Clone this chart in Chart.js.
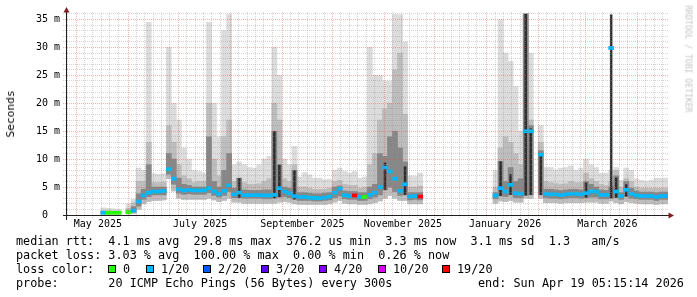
<!DOCTYPE html>
<html><head><meta charset="utf-8">
<script src="https://cdn.jsdelivr.net/npm/chart.js@4.4.1/dist/chart.umd.min.js"></script>
<style>
html,body{margin:0;padding:0;background:#fff;}
#wrap{position:relative;width:697px;height:297px;overflow:hidden;background:#fff;}
canvas{position:absolute;left:0;top:0;}
.t{position:absolute;font-family:'DejaVu Sans Mono',monospace;font-size:11.8px;line-height:14px;white-space:pre;color:#000;}
.box{position:absolute;top:265px;width:8px;height:8px;box-sizing:border-box;border:1px solid #000;}
#ylab{position:absolute;left:11px;top:114px;font-family:'DejaVu Sans Mono',monospace;font-size:11.2px;line-height:12px;white-space:pre;transform:translate(-50%,-50%) rotate(-90deg);}
#wm{position:absolute;left:688px;top:59px;font-family:'DejaVu Sans Mono',monospace;font-size:8.1px;line-height:9px;white-space:pre;color:#c4c4c4;transform:translate(-50%,-50%) rotate(90deg);}
</style></head>
<body><div id="wrap">
<canvas id="c" width="697" height="297"></canvas>
<div id="ylab">Seconds</div>
<div id="wm">RRDTOOL / TOBI OETIKER</div>
<div class="t" style="left:16px;top:233.5px">median rtt:  4.1 ms avg  29.8 ms max  376.2 us min  3.3 ms now  3.1 ms sd  1.3   am/s</div>
<div class="t" style="left:16px;top:247.5px">packet loss: 3.03 % avg  100.00 % max  0.00 % min  0.26 % now</div>
<div class="t" style="left:16px;top:261.5px">loss color:</div>
<div id="lossLegend"></div>
<div class="t" style="left:16px;top:275.5px">probe:       20 ICMP Echo Pings (56 Bytes) every 300s</div>
<div class="t" style="left:478px;top:275.5px">end: Sun Apr 19 05:15:14 2026</div>
</div>
<script>
// ---------- data (3-day bins, first bin centre = day -4.7 from 2025-05-01) ----------
const binFirstDay = -4.7;
const binStepDays = 3;
const med = [null,null,null,null,null,null,null,
0.4,0.4,0.4,0.4,
null,
0.5,0.8,2.4,3.5,4.0,4.2,4.2,4.3,8.2,6.5,
4.6,4.4,4.5,4.4,4.4,4.4,4.8,4.2,3.8,4.3,
5.3,3.7,4.0,3.55,3.55,3.55,3.55,3.5,3.5,3.6,
4.8,4.2,3.9,3.4,3.2,3.2,3.1,3.05,3.0,3.1,
3.3,4.0,4.7,3.55,3.4,3.5,3.2,3.2,3.6,4.0,
5.0,8.5,7.8,6.5,4.3,5.5,3.3,3.4,3.3,
null,null,null,null,null,null,null,null,null,null,null,null,null,null,
3.5,4.8,4.2,5.4,3.9,3.8,15,15,null,10.8,
3.8,3.7,3.7,3.55,3.7,3.8,3.8,3.7,3.9,4.2,
4.2,3.6,3.6,29.9,4.2,3.4,4.5,3.8,3.5,3.4,
3.4,3.4,3.2,3.4,3.4];
const lossCount = [null,null,null,null,null,null,null,
1,0,0,0,
null,
0,1,1,1,1,1,1,1,1,1,
1,1,1,1,1,1,1,1,1,1,
1,1,1,1,1,1,1,1,1,1,
1,1,1,1,1,1,1,1,1,1,
1,1,1,1,1,19,1,0,1,1,
1,1,1,1,1,1,1,1,19,
null,null,null,null,null,null,null,null,null,null,null,null,null,null,
1,1,1,1,1,1,1,1,null,1,
1,1,1,1,1,1,1,1,1,1,
1,1,1,1,1,1,1,1,1,1,
1,1,1,1,1];
const smokeMin = [null,null,null,null,null,null,null,
0.15,0.15,0.15,0.15,
null,
0.2,0.3,1.0,2.0,2.4,2.6,2.6,2.7,6.5,4.3,
3.0,2.8,2.8,2.8,2.8,2.8,3.0,2.7,2.4,2.6,
3.0,2.3,2.3,2.1,2.1,2.1,2.1,2.1,2.1,2.1,
2.3,2.4,2.3,2.0,1.9,1.9,1.9,1.9,1.9,1.9,
2.0,2.3,2.6,2.1,2.0,2.0,1.9,1.9,2.0,2.2,
2.5,3.0,3.5,3.0,2.6,2.6,2.0,2.0,2.0,
null,null,null,null,null,null,null,null,null,null,null,null,null,null,
2.1,2.5,2.4,2.6,2.3,2.3,3.0,3.0,null,3.0,
2.2,2.2,2.2,2.1,2.2,2.2,2.2,2.2,2.3,2.3,
2.3,2.1,2.1,2.5,2.2,2.0,2.4,2.2,2.1,2.0,
2.0,2.0,1.9,2.0,2.0];
const smokeDarkLow = [null,null,null,null,null,null,null,
0.3,0.3,0.3,0.3,
null,
0.35,0.5,1.6,2.8,3.3,3.6,3.6,3.6,7.3,5.5,
3.9,3.7,3.8,3.7,3.7,3.7,4.0,3.5,3.2,3.5,
4.2,3.1,3.1,3.0,3.0,3.0,3.0,2.9,2.9,3.0,
3.2,3.3,3.1,2.8,2.6,2.6,2.6,2.5,2.5,2.6,
2.7,3.1,3.4,2.9,2.8,2.8,2.6,2.6,2.9,3.2,
3.6,4.5,5.0,4.2,3.5,3.6,2.7,2.8,2.7,
null,null,null,null,null,null,null,null,null,null,null,null,null,null,
2.9,3.4,3.3,3.6,3.1,3.1,3.5,3.6,null,3.6,
3.1,3.0,3.0,2.9,3.0,3.1,3.1,3.0,3.1,3.2,
3.2,2.9,2.9,3.0,3.1,2.8,3.3,3.0,2.9,2.8,
2.8,2.8,2.6,2.8,2.8];
const smokeLightTop = [null,null,null,null,null,null,null,
1.3,1.2,1.1,1.0,
null,
2.0,2.8,8.4,8.0,34.5,7.4,7.3,7.4,30,20,
17,12,10,8,7.8,7.5,34.5,20,14,33,
35.9,9,9.5,9,8.5,8.4,9,10,10.5,30,
25,10,9,12.3,6.8,7.6,7.2,6.6,6.6,6.3,
6.4,8,8.4,7.8,7.5,7.8,6.6,6.8,30,25,
25,24,24,35.9,35.9,31,7,6.9,7.5,
null,null,null,null,null,null,null,null,null,null,null,null,null,null,
8,35,29,27.5,23,15,36,29,null,16,
8.5,8.5,8.1,8.4,8.5,8.8,8,8.4,10,9,
8.5,7.5,7.5,8,8.5,6.2,8.4,8,6.5,6.2,
6,6.2,6.6,6.6,6.6];
const smokeMidTop = [null,null,null,null,null,null,null,
0.8,0.8,0.7,0.7,
null,
1.2,2.2,6.0,6.0,13,5.8,5.8,5.9,16,13,
9,7,6.5,5.8,6,6,20,10,7,14,
17,6,6.6,5.8,5.5,5.5,5.6,6,6.5,20,
17,6.5,6,9,5,5,4.8,4.6,4.6,4.6,
4.8,6,6.2,5.5,5.3,5.3,4.8,5,9,11,
17,19,20,26,29,18,5,5,5.2,
null,null,null,null,null,null,null,null,null,null,null,null,null,null,
5,12,14,13,11,9,36,17,null,13,
6,5.8,5.6,5.5,5.6,6,5.8,5.8,7.5,6.5,
6,5.5,5.3,6,8,5,6.5,6,5,4.8,
4.8,4.8,4.8,4.8,4.8];
const smokeDarkTop = [null,null,null,null,null,null,null,
0.5,0.5,0.5,0.5,
null,
0.8,1.5,3.8,4.6,9,5.0,5.0,5.0,11,10,
6.6,5.5,5.3,5.0,5.0,5.0,14,6,5,8,
11,4.8,6.6,4.5,4.4,4.4,4.4,4.5,4.5,15,
9,5,4.8,8,4.0,4.0,3.9,3.8,3.8,3.9,
4.0,5,5.2,4.3,4.2,4.2,4.0,4.0,5,5.5,
11,10.5,14,15,12,9.5,4,4,4,
null,null,null,null,null,null,null,null,null,null,null,null,null,null,
4,9.6,6,8.5,6,6.5,36,16,null,11.5,
4.6,4.6,4.5,4.4,4.5,4.6,4.6,4.5,6,5.5,
5,4.5,4.4,5,7,4,6.0,4.8,4.3,4.1,
4.1,4.1,4.0,4.1,4.1];
const smokeCoreTop = [null,null,null,null,null,null,null,
null,null,null,null,
null,
null,null,null,null,null,null,null,null,null,null,
null,null,null,null,null,null,null,null,null,null,
null,null,6.6,null,null,null,null,null,null,15,
9,null,null,8,null,null,null,null,null,null,
null,null,null,null,null,null,null,null,null,null,
null,9.4,null,null,null,8.7,null,null,null,
null,null,null,null,null,null,null,null,null,null,null,null,null,null,
null,9.6,null,7.3,null,null,36,15.5,null,11,
null,null,null,null,null,null,null,null,5.8,null,
null,null,null,35.9,6.7,null,5.5,null,null,null,
null,null,null,null,null];

const lossLegend = [[0,'0'],[1,'1/20'],[2,'2/20'],[3,'3/20'],[4,'4/20'],[10,'10/20'],[19,'19/20']];
const lossColors = {0:'#26ff00',1:'#00b8ff',2:'#0059ff',3:'#5e00ff',4:'#7e00ff',10:'#dd00ff',19:'#ff0000'};
const monthStarts = ['2025-05-01','2025-06-01','2025-07-01','2025-08-01','2025-09-01','2025-10-01','2025-11-01','2025-12-01','2026-01-01','2026-02-01','2026-03-01','2026-04-01'];
const minorDaysOfMonth = [6,11,16,21,26];
const monthLabels = [['2025-05-14','May 2025'],['2025-07-14','July 2025'],['2025-09-13','September 2025'],['2025-11-12','November 2025'],['2026-01-12','January 2026'],['2026-03-14','March 2026']];
const yTickValues = [0,5,10,15,20,25,30,35];

// ---------- helpers ----------
const EPOCH = Date.UTC(2025,4,1);
const dayOf = s => { const [y,m,d] = s.split('-').map(Number); return (Date.UTC(y,m-1,d) - EPOCH)/864e5; };
const XMAX = dayOf('2026-04-19') + (5*3600+15*60+14)/86400;
const XMIN = -5.45;
const YMAX = 36.34;
const GRID = 'rgba(143,143,143,0.38)', MGRID = 'rgba(222,79,79,0.42)';
const FONT = "'DejaVu Sans Mono', monospace";

const xs = med.map((_, i) => binFirstDay + i*binStepDays);
const mk = (lo, hi) => xs.map((x,i) => ({x, y: (lo[i]==null || hi[i]==null) ? null : [lo[i], hi[i]]}));

const LL = document.getElementById('lossLegend');
const boxX = [108,146,203,261,319,378,442];
lossLegend.forEach(([c,txt],i) => {
  const b = document.createElement('div'); b.className='box'; b.style.left = boxX[i]+'px'; b.style.background = lossColors[c]; LL.appendChild(b);
  const t = document.createElement('div'); t.className='t'; t.style.left=(boxX[i]+15)+'px'; t.style.top='261.5px'; t.textContent = txt; LL.appendChild(t);
});

function buildXTicks(){
  const t = [];
  const allMonths = ['2025-04-01'].concat(monthStarts);
  allMonths.forEach(ms => {
    const d0 = dayOf(ms);
    if (d0 >= XMIN && d0 <= XMAX && ms !== '2025-04-01') t.push({value:d0, kind:'major'});
    minorDaysOfMonth.forEach(md => { const v = d0 + md - 1; if (v > XMIN && v < XMAX) t.push({value:v, kind:'minor'}); });
  });
  monthLabels.forEach(([s,l]) => t.push({value:dayOf(s), kind:'label', lab:l}));
  t.sort((a,b)=>a.value-b.value);
  return t;
}

const axesPlugin = {
  id:'rrdAxes',
  afterDraw(chart){
    const {ctx, chartArea:a} = chart;
    ctx.save();
    ctx.strokeStyle = '#1f1f1f'; ctx.lineWidth = 1;
    ctx.beginPath();
    ctx.moveTo(63, a.bottom + 0.5); ctx.lineTo(a.right + 1, a.bottom + 0.5);
    ctx.moveTo(a.left - 0.5, a.bottom + 5); ctx.lineTo(a.left - 0.5, a.top);
    ctx.stroke();
    ctx.fillStyle = '#7f1f1f';
    ctx.beginPath();
    ctx.moveTo(a.left - 0.5, a.top - 5); ctx.lineTo(a.left - 3.5, a.top + 0.5); ctx.lineTo(a.left + 2.5, a.top + 0.5); ctx.closePath(); ctx.fill();
    ctx.beginPath();
    ctx.moveTo(a.right + 6, a.bottom + 0.5); ctx.lineTo(a.right + 0.5, a.bottom - 2.5); ctx.lineTo(a.right + 0.5, a.bottom + 3.5); ctx.closePath(); ctx.fill();
    ctx.restore();
  }
};

const common = {xAxisID:'x', yAxisID:'y', grouped:false, barPercentage:1, categoryPercentage:1, borderWidth:0};
new Chart(document.getElementById('c'), {
  type:'bar',
  data:{ datasets:[
    Object.assign({label:'median', order:0, data: xs.map((x,i)=>({x, y: med[i]==null?null:[med[i]-0.27, med[i]+0.27]})), backgroundColor: lossCount.map(c => c==null ? 'rgba(0,0,0,0)' : lossColors[c])}, common),
    Object.assign({label:'core', order:1, data: mk(smokeDarkLow, smokeCoreTop), backgroundColor:'#2e2e2e'}, common, {barPercentage:0.5}),
    Object.assign({label:'dark', order:2, data: mk(smokeDarkLow, smokeDarkTop), backgroundColor:'#878787'}, common),
    Object.assign({label:'mid', order:3, data: mk(smokeMin, smokeMidTop), backgroundColor:'#bdbdbd'}, common),
    Object.assign({label:'light', order:4, data: mk(smokeMin, smokeLightTop), backgroundColor:'#dcdcdc'}, common)
  ]},
  options:{
    animation:false, responsive:false, devicePixelRatio:1,
    layout:{padding:{left:0, right:29, top:12, bottom:0}},
    plugins:{legend:{display:false}, tooltip:{enabled:false}},
    scales:{
      x:{ type:'linear', min:XMIN, max:XMAX, display:false, offset:false, grid:{offset:false},
          afterBuildTicks: s => { s.ticks = [{value:XMIN},{value:XMAX}]; } },
      xg:{ type:'linear', position:'bottom', min:XMIN, max:XMAX, offset:false,
          afterBuildTicks: s => { s.ticks = buildXTicks(); },
          afterFit: s => { s.height = 82; },
          ticks:{ autoSkip:false, maxRotation:0, minRotation:0, padding:0, color:'#000', font:{family:FONT, size:10},
                  callback:(v,i,t) => (t[i] && t[i].lab) ? t[i].lab : '' },
          grid:{ offset:false, z:1, tickLength:3,
                 color: c => c.tick && c.tick.kind==='major' ? MGRID : (c.tick && c.tick.kind==='minor' ? GRID : 'rgba(0,0,0,0)'),
                 lineWidth: c => c.tick && c.tick.kind==='label' ? 0 : 1,
                 tickColor: c => c.tick && c.tick.kind==='major' ? MGRID : (c.tick && c.tick.kind==='minor' ? GRID : 'rgba(0,0,0,0)'),
                 tickBorderDash:[1,1] },
          border:{display:false, dash:[1,1]} },
      y:{ type:'linear', min:0, max:YMAX,
          afterBuildTicks: s => { const t=[]; for (let v=0; v<=Math.floor(YMAX); v++) t.push({value:v}); s.ticks = t; },
          afterFit: s => { s.width = 67; },
          ticks:{ autoSkip:false, padding:3, color:'#000', font:{family:FONT, size:10},
                  callback: v => yTickValues.includes(v) ? (v===0 ? '0  ' : v + ' m') : '' },
          grid:{ z:1, tickLength:4, color: c => (c.tick && c.tick.value % 5 === 0) ? MGRID : GRID,
                 tickColor: c => (c.tick && c.tick.value % 5 === 0) ? MGRID : GRID, tickBorderDash:[1,1] },
          border:{display:false, dash:[1,1]} }
    }
  },
  plugins:[axesPlugin]
});
</script>
</body></html>
